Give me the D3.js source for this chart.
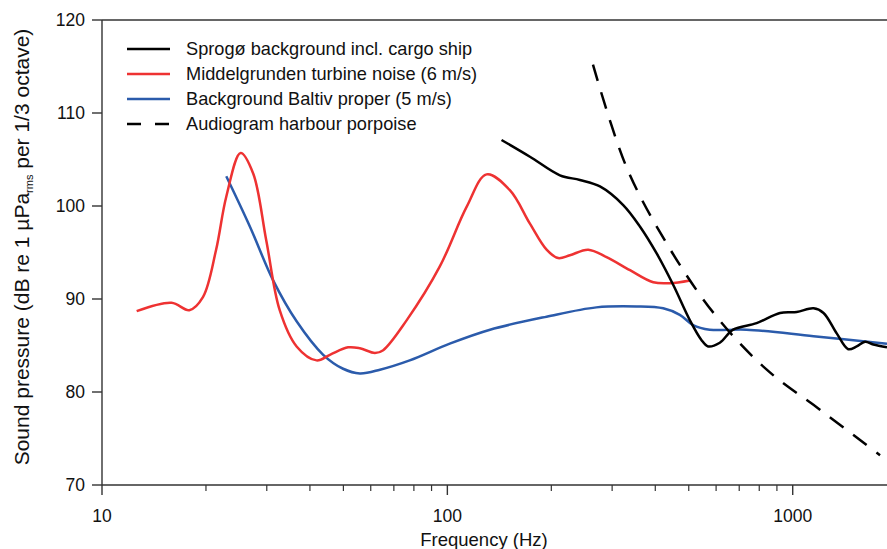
<!DOCTYPE html>
<html>
<head>
<meta charset="utf-8">
<script src="https://cdn.jsdelivr.net/npm/d3@7"></script>
<style>
  body { margin: 0; background: #fff; }
  svg text { font-family: "Liberation Sans", Arial, Helvetica, sans-serif; fill: #111; }
</style>
</head>
<body>
<div id="chart"></div>
<script>
// values: frequency (Hz), level (dB)
var redFreq = [12.6, 15.9, 17.9, 19.6, 21.4, 22.9, 25.2, 27.4, 29.9, 32.7, 36.6, 41.8, 45.7, 51.6, 55.8, 61.7, 65.2, 76.2, 95.1, 113.7, 129.9, 151.7, 173.4, 193.8, 209.3, 226.3, 255.8, 289, 338, 394.7, 440.7, 504];
var redDb   = [88.7, 89.6, 88.8, 90.2, 95.3, 101.0, 105.7, 103.5, 96.3, 88.8, 84.9, 83.4, 84.0, 84.8, 84.7, 84.2, 84.5, 87.7, 93.5, 99.9, 103.4, 101.7, 98.1, 95.3, 94.4, 94.7, 95.3, 94.5, 93.1, 91.8, 91.7, 92.0];

var blueFreq = [22.9, 26.8, 31.3, 36.6, 43.7, 49.9, 55.8, 63.8, 77.8, 101.6, 132.9, 193.8, 270, 353, 421.7, 471, 514.6, 575, 735, 1149, 1875];
var blueDb   = [103.2, 97.8, 92.0, 87.6, 84.0, 82.5, 82.0, 82.4, 83.4, 85.2, 86.7, 88.1, 89.1, 89.2, 89.0, 88.3, 87.2, 86.7, 86.7, 86.0, 85.2];

var blackFreq = [143.5, 173.4, 211.8, 242, 276.6, 323, 361, 403.7, 451, 504, 544, 569, 615, 672, 786, 919, 1027, 1149, 1228, 1341, 1448, 1532, 1620, 1712, 1875];
var blackDb   = [107.1, 105.3, 103.3, 102.8, 102.1, 100.1, 97.8, 94.9, 91.5, 87.7, 85.6, 84.9, 85.3, 86.7, 87.4, 88.5, 88.6, 89.0, 88.5, 86.3, 84.6, 84.9, 85.4, 85.1, 84.8];

var dashFreq = [264, 330, 431, 590, 841, 1199, 1790];
var dashDb   = [115.2, 104.2, 96.0, 88.5, 82.4, 78.1, 73.2];

var xTicks = [10, 100, 1000];
var xMinor = [20, 30, 40, 50, 60, 70, 80, 90, 200, 300, 400, 500, 600, 700, 800, 900];
var yTicks = [70, 80, 90, 100, 110, 120];

var legendNames = ["Sprogø background incl. cargo ship", "Middelgrunden turbine noise (6 m/s)", "Background Baltiv proper (5 m/s)", "Audiogram harbour porpoise"];
var legendColors = ["#000", "#ee3232", "#2b5bab", "#000"];
var legendDash = [null, null, null, "17,12"];

var width = 887, height = 549;
var margin = {left: 102, right: 0, top: 20, bottom: 64};

var svg = d3.select("#chart").append("svg").attr("width", width).attr("height", height);

var x = d3.scaleLog().domain([10, 1875]).range([margin.left, width - margin.right]);
var y = d3.scaleLinear().domain([70, 120]).range([height - margin.bottom, margin.top]);

var axisColor = "#333";
//
var xAxisG = svg.append("g").attr("transform", "translate(0," + y(70) + ")");
xAxisG.append("line").attr("x1", x(10)).attr("x2", width).attr("stroke", axisColor).attr("stroke-width", 1.4);
xAxisG.selectAll("line.major").data(xTicks).enter().append("line")
	.attr("class", "major").attr("x1", x).attr("x2", x).attr("y1", 0).attr("y2", 10)
	.attr("stroke", axisColor).attr("stroke-width", 1.4);
xAxisG.selectAll("line.minor").data(xMinor).enter().append("line")
	.attr("class", "minor").attr("x1", x).attr("x2", x).attr("y1", 0).attr("y2", 6)
	.attr("stroke", axisColor).attr("stroke-width", 1.2);
xAxisG.selectAll("text").data(xTicks).enter().append("text")
	.attr("x", x).attr("y", 37).attr("text-anchor", "middle").style("font-size", "17.5px")
	.text(function(d){ return d; });
//
var yAxisG = svg.append("g").attr("transform", "translate(" + x(10) + ",0)");
yAxisG.append("line").attr("y1", y(120)).attr("y2", y(70)).attr("stroke", axisColor).attr("stroke-width", 1.4);
yAxisG.selectAll("line.tick").data(yTicks).enter().append("line")
	.attr("class", "tick").attr("x1", -10).attr("x2", 0).attr("y1", y).attr("y2", y)
	.attr("stroke", axisColor).attr("stroke-width", 1.4);
yAxisG.selectAll("text").data(yTicks).enter().append("text")
	.attr("x", -17).attr("y", y).attr("dy", "0.35em").attr("text-anchor", "end").style("font-size", "17.5px")
	.text(function(d){ return d; });
// top frame line
svg.append("line").attr("x1", x(10)).attr("x2", width).attr("y1", y(120)).attr("y2", y(120))
	.attr("stroke", axisColor).attr("stroke-width", 1.4);

// axis titles
svg.append("text").attr("x", 484).attr("y", 546).attr("text-anchor", "middle").style("font-size", "18.5px")
	.text("Frequency (Hz)");
var yl = svg.append("text").attr("transform", "translate(29," + 247 + ") rotate(-90)")
	.attr("text-anchor", "middle").style("font-size", "21px");
yl.append("tspan").text("Sound pressure (dB re 1 µPa");
yl.append("tspan").attr("dy", 4).style("font-size", "11px").text("rms");
yl.append("tspan").attr("dy", -4).text(" per 1/3 octave)");

// curves
var line = d3.line().x(function(d){ return x(d[0]); }).y(function(d){ return y(d[1]); })
	.curve(d3.curveCatmullRom.alpha(0.5));
function pairs(f, v){ return f.map(function(d, i){ return [d, v[i]]; }); }

var plot = svg.append("g");
plot.append("path").datum(pairs(blueFreq, blueDb)).attr("d", line)
	.attr("fill", "none").attr("stroke", legendColors[2]).attr("stroke-width", 2.5);
plot.append("path").datum(pairs(redFreq, redDb)).attr("d", line)
	.attr("fill", "none").attr("stroke", legendColors[1]).attr("stroke-width", 2.5);
plot.append("path").datum(pairs(blackFreq, blackDb)).attr("d", line)
	.attr("fill", "none").attr("stroke", legendColors[0]).attr("stroke-width", 2.5);
plot.append("path").datum(pairs(dashFreq, dashDb)).attr("d", line)
	.attr("fill", "none").attr("stroke", legendColors[3]).attr("stroke-width", 2.5)
	.attr("stroke-dasharray", legendDash[3]);

// legend
var lg = svg.append("g");
var rows = lg.selectAll("g").data(legendNames).enter().append("g")
	.attr("transform", function(d, i){ return "translate(127," + (49 + i * 25) + ")"; });
rows.append("line").attr("x1", 0).attr("x2", 43)
	.attr("stroke", function(d, i){ return legendColors[i]; }).attr("stroke-width", 2.5)
	.attr("stroke-dasharray", function(d, i){ return legendDash[i] ? "14,14" : null; });
rows.append("text").attr("x", 59).attr("dy", "0.35em").style("font-size", "18.2px")
	.text(function(d){ return d; });
</script>
</body>
</html>
